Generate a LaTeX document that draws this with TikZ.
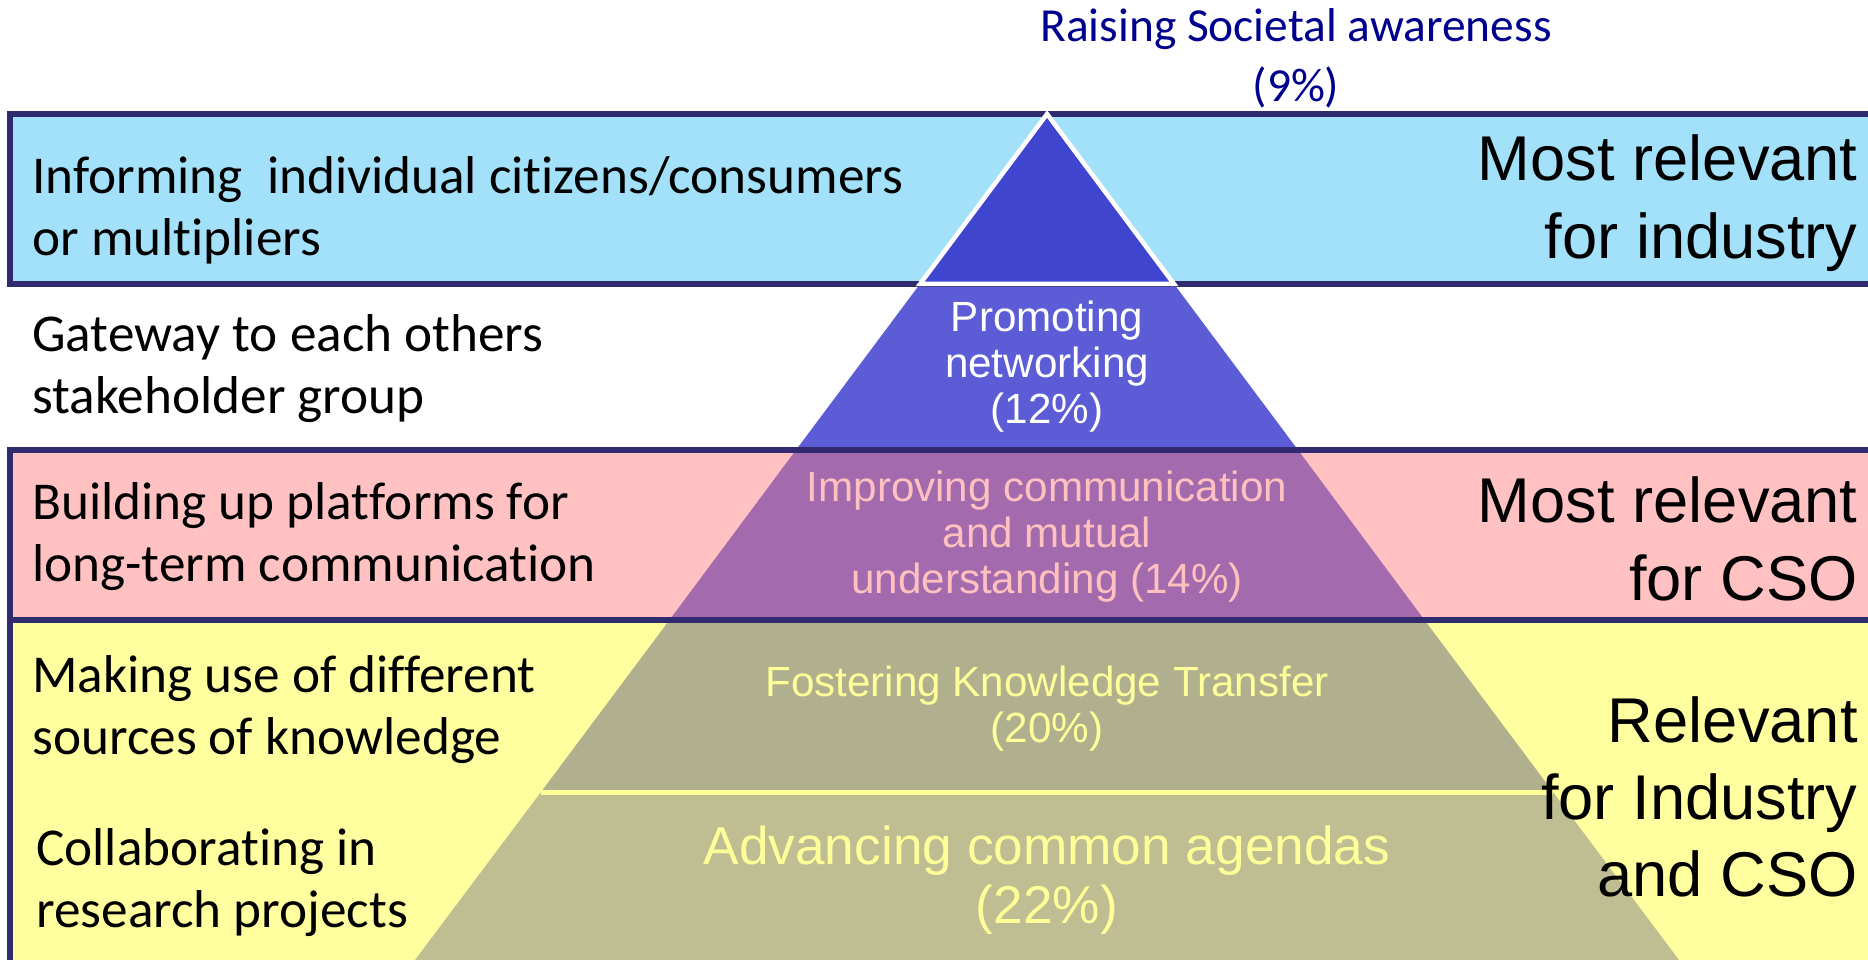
\documentclass[tikz,border=0pt]{standalone}
\usepackage{fontspec}
\setmainfont{Carlito}[Ligatures=NoCommon]
\newfontfamily\arialfont{Liberation Sans}

\definecolor{bandblue}{HTML}{A2E1F9}
\definecolor{bandpink}{HTML}{FFC1C1}
\definecolor{bandyellow}{HTML}{FFFF9F}
\definecolor{framecol}{HTML}{302B6E}
\definecolor{apexblue}{HTML}{4045CF}
\definecolor{netblue}{HTML}{5B5CD6}
\definecolor{purp}{HTML}{A36BAD}
\definecolor{olivedark}{HTML}{B0B08E}
\definecolor{olivelight}{HTML}{BFBD92}
\definecolor{textyellow}{HTML}{FFFF99}
\definecolor{textpink}{HTML}{FFC0C0}
\definecolor{navytext}{HTML}{00008F}

\begin{document}
\begin{tikzpicture}[x=0.2mm, y=-0.2mm,
    frame/.style={line width=1.2mm, draw=framecol},
    lefttext/.style={anchor=west, align=left, inner sep=0pt, font=\fontsize{30.3}{35.3}\selectfont},
    righttext/.style={anchor=east, align=right, inner sep=0pt, font=\arialfont\fontsize{36}{44}\selectfont},
    level/.style={align=center, inner sep=0pt, font=\arialfont\fontsize{24}{26.2}\selectfont}]
    \useasboundingbox (0,0) rectangle (1868,960);
    \clip (0,0) rectangle (1868,960);

    % bands behind the pyramid
    \fill[bandblue] (10,114) rectangle (1880,284);
    \fill[bandpink] (10,450) rectangle (1880,620);
    \fill[bandyellow] (10,620) rectangle (1880,970);

    % pyramid levels
    \fill[netblue] (920,284) -- (1174,284) -- (1298,450) -- (796,450) -- cycle;
    \fill[purp] (796,450) -- (1298,450) -- (1424.5,620) -- (669.5,620) -- cycle;
    \fill[olivedark] (669.5,620) -- (1424.5,620) -- (1553,792) -- (541,792) -- cycle;
    \fill[olivelight] (541,792) -- (1553,792) -- (1679,960) -- (415,960) -- cycle;
    \draw[textyellow, line width=1mm] (541,792) -- (1553,792);

    \draw[frame] (1880,114) -- (10,114) -- (10,284) -- (1880,284);
    \draw[frame] (1880,450) -- (10,450) -- (10,620) -- (1880,620);
    \draw[frame] (10,620) -- (10,970);

    \draw[white, fill=apexblue, line width=0.9mm] (1047,114) -- (1174,284) -- (920,284) -- cycle;

    \node[align=center, inner sep=0pt, text=navytext, font=\fontsize{27}{34}\selectfont] (aware) at (1296,58) {Raising Societal awareness\\(9\%)};

    \node[lefttext] (inform) at (32,210) {Informing\ \ individual citizens/consumers\\or multipliers};
    \node[lefttext] (gateway) at (32,369) {Gateway to each others\\stakeholder group};
    \node[lefttext] (platform) at (32,537) {Building up platforms for\\long-term communication};
    \node[lefttext] (sources) at (32,710) {Making use of different\\sources of knowledge};
    \node[lefttext] (research) at (36,883) {Collaborating in\\research projects};

    \node[righttext] (industry) at (1858,203) {Most relevant\\for industry};
    \node[righttext] (cso) at (1858,539) {Most relevant\\for CSO};
    \node[righttext] (both) at (1858,797) {Relevant\\for Industry\\and CSO};

    \node[level, text=white] (network) at (1047,367) {Promoting\\networking\\(12\%)};
    \node[level, text=textpink] (understand) at (1047,537) {Improving communication\\and mutual\\understanding (14\%)};
    \node[level, text=textyellow] (transfer) at (1047,709) {Fostering Knowledge Transfer\\(20\%)};
    \node[level, text=textyellow, font=\arialfont\fontsize{30.3}{33.5}\selectfont] (agenda) at (1047,880) {Advancing common agendas\\(22\%)};
\end{tikzpicture}
\end{document}
